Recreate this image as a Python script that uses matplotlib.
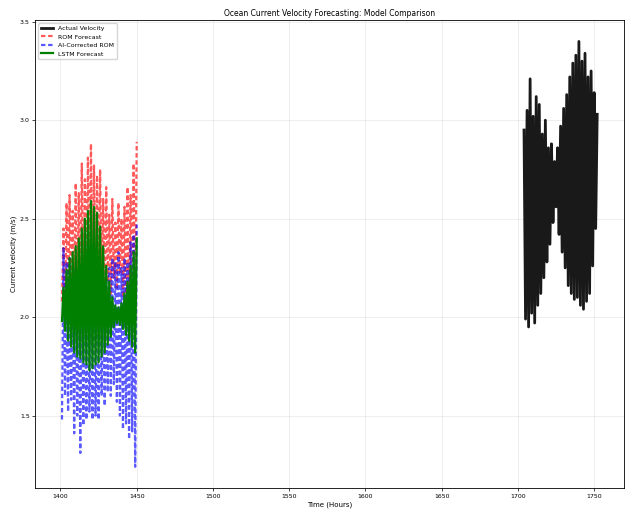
import matplotlib
matplotlib.use("Agg")
import matplotlib.pyplot as plt

# hours
hours_fc = list(range(1401, 1451))
hours_act = list(range(1704, 1753))

# observed velocity (m/s)
actual = [2.95, 1.99, 3.05, 1.95, 3.21, 2.02, 3.02, 1.97, 3.12, 2.06,
          3.08, 2.12, 2.93, 2.20, 3.00, 2.28, 2.86, 2.37, 2.88, 2.48,
          2.79, 2.56, 2.86, 2.42, 2.97, 2.33, 3.06, 2.25, 3.13, 2.16,
          3.22, 2.12, 3.29, 2.09, 3.33, 2.10, 3.40, 2.06, 3.30, 2.04,
          3.34, 2.08, 3.22, 2.12, 3.25, 2.26, 3.14, 2.45, 3.03]

rom = [2.08, 2.45, 2.02, 2.58, 2.05, 2.62, 1.98, 2.54, 2.08, 2.68,
       2.00, 2.63, 2.10, 2.78, 2.04, 2.70, 2.12, 2.81, 2.06, 2.88,
       2.10, 2.77, 2.12, 2.72, 2.08, 2.75, 2.15, 2.60, 2.10, 2.66,
       2.18, 2.52, 2.12, 2.60, 2.20, 2.48, 2.14, 2.58, 2.22, 2.50,
       2.10, 2.56, 2.08, 2.66, 2.04, 2.62, 2.00, 2.78, 1.98, 2.89]

ai_rom = [1.48, 2.35, 1.60, 2.28, 1.52, 2.30, 1.58, 2.20, 1.41, 2.25,
          1.50, 2.18, 1.31, 2.22, 1.45, 2.15, 1.48, 2.20, 1.52, 2.12,
          1.48, 2.18, 1.50, 2.10, 1.48, 2.15, 1.60, 2.12, 1.55, 2.20,
          1.62, 2.25, 1.60, 2.30, 1.66, 2.28, 1.57, 2.33, 1.50, 2.25,
          1.43, 2.30, 1.46, 2.28, 1.38, 2.38, 1.42, 2.42, 1.24, 2.47]

lstm = [1.98, 2.15, 1.93, 2.24, 1.88, 2.30, 1.85, 2.33, 1.82, 2.36,
        1.80, 2.40, 1.79, 2.45, 1.77, 2.50, 1.76, 2.54, 1.73, 2.59,
        1.74, 2.56, 1.76, 2.53, 1.77, 2.46, 1.80, 2.36, 1.82, 2.26,
        1.86, 2.18, 1.90, 2.10, 1.95, 2.06, 1.97, 2.05, 1.96, 2.07,
        1.94, 2.12, 1.91, 2.18, 1.88, 2.26, 1.85, 2.33, 1.82, 2.40]

fig, ax = plt.subplots(figsize=(6.29, 5.17), dpi=100)
fig.subplots_adjust(left=0.056, right=0.992, top=0.961, bottom=0.056)

ax.plot(hours_act, actual, color='black', lw=2.0, alpha=0.9, label='Actual Velocity')
ax.plot(hours_fc, rom, color='red', ls=(0, (2, 1.2)), lw=1.6, alpha=0.65, label='ROM Forecast')
ax.plot(hours_fc, ai_rom, color='blue', ls=(0, (2, 1.2)), lw=1.6, alpha=0.65, label='AI-Corrected ROM')
ax.plot(hours_fc, lstm, 'g-', lw=1.6, label='LSTM Forecast')

ax.set_title('Ocean Current Velocity Forecasting: Model Comparison', fontsize=5.5, pad=3)
ax.set_xlabel('Time (Hours)', fontsize=5, labelpad=2)
ax.set_ylabel('Current velocity (m/s)', fontsize=5, labelpad=2)
ax.tick_params(labelsize=4.5, length=2, width=0.5, pad=2)
ax.grid(True, alpha=0.3, lw=0.5)
for s in ax.spines.values():
    s.set_linewidth(0.6)
ax.legend(loc='upper left', fontsize=4.5, framealpha=0.8)

fig.savefig('out.png', dpi=100)
